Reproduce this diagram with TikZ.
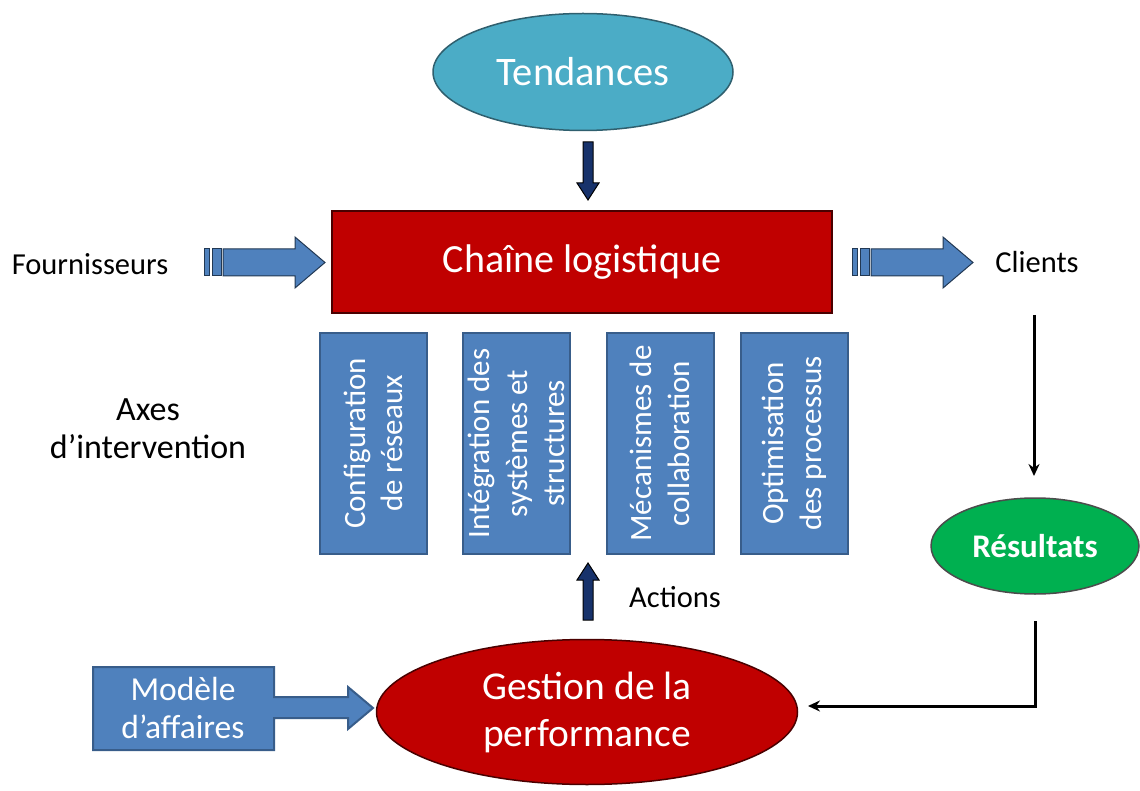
\documentclass[tikz,border=0pt]{standalone}
\usepackage{fontspec}
\setmainfont{Carlito}
\usetikzlibrary{shapes.geometric,arrows.meta}

\definecolor{tendfill}{HTML}{4BACC6}
\definecolor{tendline}{HTML}{2F5F6E}
\definecolor{redfill}{HTML}{C00000}
\definecolor{redline}{HTML}{4A0000}
\definecolor{axefill}{HTML}{4F81BD}
\definecolor{axeline}{HTML}{385D8A}
\definecolor{navy}{HTML}{17326B}
\definecolor{resfill}{HTML}{00B050}

% striped block arrow, #1 = left x, #2 = centre y
\newcommand{\stripedarrow}[2]{%
  \draw[axeline!60!black, fill=axefill, line width=1pt] (#1,#2-13.5) rectangle ++(5,27);
  \draw[axeline!60!black, fill=axefill, line width=1pt] (#1+8,#2-13.5) rectangle ++(9,27);
  \draw[axeline!60!black, fill=axefill, line width=1pt]
    (#1+19,#2-13.5) -- (#1+91,#2-13.5) -- (#1+91,#2-25.5) -- (#1+121,#2)
    -- (#1+91,#2+25.5) -- (#1+91,#2+13.5) -- (#1+19,#2+13.5) -- cycle;
}

\begin{document}
\begin{tikzpicture}[x=1pt,y=-1pt,
  ell/.style={draw, ellipse, line width=1.5pt, text=white, inner sep=0pt},
  axebox/.style={draw=axeline, fill=axefill, line width=2pt, text=white,
    rotate=90, align=center, minimum width=221, minimum height=107,
    inner sep=1pt, font=\fontsize{31}{37.5}\selectfont},
  navyarrow/.style={draw=black, fill=navy, line width=1pt},
  thinarrow/.style={line width=3pt, -{Stealth[length=12pt,width=11pt]}},
  lbl/.style={font=\fontsize{30.5}{36}\selectfont, align=center}]
\useasboundingbox (0,0) rectangle (1140,791);

\node[ell, fill=tendfill, draw=tendline, minimum width=300, minimum height=117,
  font=\fontsize{40.5}{48}\selectfont] (tend) at (583,72) {Tendances};
\node[draw=redline, fill=redfill, line width=1.5pt, text=white,
  minimum width=500, minimum height=102,
  font=\fontsize{40}{48}\selectfont] (chain) at (582,262) {Chaîne logistique};

% trends down arrow
\path[navyarrow] (583,142) -- (593,142) -- (593,183) -- (599,183) -- (588,200)
  -- (577,183) -- (583,183) -- cycle;

\node[lbl] (fourn) at (90,264) {Fournisseurs};
\node[lbl] (clients) at (1037,262) {Clients};
\stripedarrow{204}{262.5}
\stripedarrow{852}{262.5}

\node[lbl, font=\fontsize{34}{38}\selectfont] (axes) at (148,429) {Axes\\d’intervention};

\node[axebox] (conf) at (373.5,443.5) {Configuration\\de réseaux};
\node[axebox] (integ) at (516.5,443.5) {Intégration des\\systèmes et\\structures};
\node[axebox] (meca) at (660,443.5) {Mécanismes de\\collaboration};
\node[axebox] (optim) at (794.5,443.5) {Optimisation\\des processus};

% actions up arrow
\path[navyarrow] (583,620) -- (593,620) -- (593,580) -- (599,580) -- (588,563)
  -- (577,580) -- (583,580) -- cycle;
\node[lbl] (actions) at (675,597) {Actions};

\node[ell, fill=redfill, draw=redline, minimum width=421, minimum height=145,
  align=center, font=\fontsize{39.5}{47}\selectfont] (gest) at (587,712)
  {Gestion de la\\performance};

\node[ell, fill=resfill, draw=black!70, minimum width=208, minimum height=96,
  font=\bfseries\fontsize{33}{38}\selectfont] (res) at (1035,546) {Résultats};

% business model callout
\draw[axeline, fill=axefill, line width=2pt]
  (93,667) -- (274,667) -- (274,697) -- (348,697) -- (348,687) -- (373,708)
  -- (348,729) -- (348,718) -- (274,718) -- (274,750) -- (93,750) -- cycle;
\node[text=white, align=center, font=\fontsize{33.5}{38}\selectfont] (modele)
  at (183,708) {Modèle\\d’affaires};

\draw[thinarrow] ([xshift=-3]clients.south |- 0,315) -- ([xshift=-3]clients.south |- 0,476);
\draw[thinarrow] (res.south |- 0,621) |- (808,706);
\end{tikzpicture}
\end{document}
